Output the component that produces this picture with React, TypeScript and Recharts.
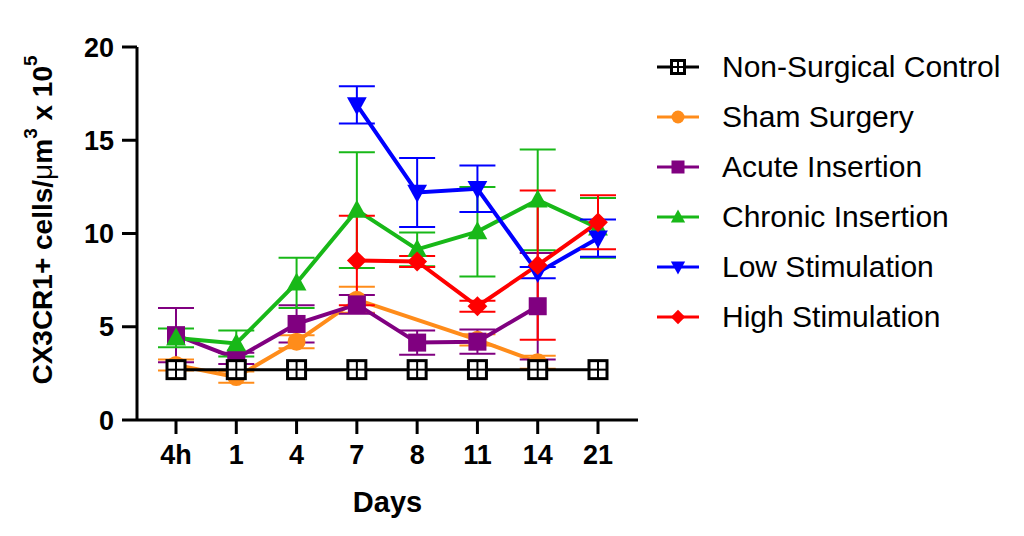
import React from "react";
import { LineChart, Line, XAxis, YAxis, ErrorBar, Label } from "recharts";

const days = ["4h", "1", "4", "7", "8", "11", "14", "21"];
const yTicks = [0, 5, 10, 15, 20];

const control = [2.7, 2.7, 2.7, 2.7, 2.7, 2.7, 2.7, 2.7];
const sham = [2.95, 2.3, 4.2, 6.45, null, 4.3, 3.1, null];
const shamErr = [0.3, 0.3, 0.35, 0.7, null, 0.3, 0.35, null];
const acute = [4.55, 3.3, 5.15, 6.2, 4.15, 4.2, 6.1, null];
const acuteErr = [1.45, 0.3, 1.0, 0.5, 0.65, 0.65, 2.85, null];
const chronic = [4.4, 4.1, 7.35, 11.25, 9.15, 10.1, 11.8, 10.3];
const chronicErr = [0.5, 0.7, 1.35, 3.1, 0.9, 2.4, 2.7, 1.6];
const low = [null, null, null, 16.9, 12.2, 12.4, 7.9, 9.75];
const lowErr = [null, null, null, 1.0, 1.85, 1.25, 0.3, 1.0];
const high = [null, null, null, 8.55, 8.5, 6.1, 8.3, 10.6];
const highErr = [null, null, null, 2.4, 0.3, 0.3, 4.0, 1.45];

const FONT = "'Liberation Sans', Arial, sans-serif";

type Shape = "openSquare" | "circle" | "square" | "up" | "down" | "diamond";

// one entry per series, drawn bottom to top
const series = [
  { key: "sham", err: "shamErr", name: "Sham Surgery", color: "#FF8C1A", shape: "circle" as Shape },
  { key: "acute", err: "acuteErr", name: "Acute Insertion", color: "#800080", shape: "square" as Shape },
  { key: "chronic", err: "chronicErr", name: "Chronic Insertion", color: "#18B818", shape: "up" as Shape },
  { key: "low", err: "lowErr", name: "Low Stimulation", color: "#0000FF", shape: "down" as Shape },
  { key: "high", err: "highErr", name: "High Stimulation", color: "#FF0000", shape: "diamond" as Shape },
];

const legendOrder = [
  { name: "Non-Surgical Control", color: "#000000", shape: "openSquare" as Shape },
  ...series,
];

const data = days.map((d, i) => ({
  day: d,
  control: control[i],
  sham: sham[i],
  shamErr: shamErr[i],
  acute: acute[i],
  acuteErr: acuteErr[i],
  chronic: chronic[i],
  chronicErr: chronicErr[i],
  low: low[i],
  lowErr: lowErr[i],
  high: high[i],
  highErr: highErr[i],
}));

function Marker({ shape, color, cx, cy, s }: { shape: Shape; color: string; cx: number; cy: number; s: number }) {
  switch (shape) {
    case "openSquare":
      return (
        <g>
          <rect x={cx - s} y={cy - s} width={2 * s} height={2 * s} fill="#fff" stroke="#000" strokeWidth={3} />
          <line x1={cx - s} x2={cx + s} y1={cy} y2={cy} stroke="#000" strokeWidth={2} />
          <line x1={cx} x2={cx} y1={cy - s} y2={cy + s} stroke="#000" strokeWidth={2} />
        </g>
      );
    case "circle":
      return <circle cx={cx} cy={cy} r={s} fill={color} />;
    case "square":
      return <rect x={cx - s} y={cy - s} width={2 * s} height={2 * s} fill={color} />;
    case "up":
      return <polygon points={`${cx},${cy - s * 1.15} ${cx - s * 1.1},${cy + s * 0.85} ${cx + s * 1.1},${cy + s * 0.85}`} fill={color} />;
    case "down":
      return <polygon points={`${cx},${cy + s * 1.15} ${cx - s * 1.1},${cy - s * 0.85} ${cx + s * 1.1},${cy - s * 0.85}`} fill={color} />;
    default:
      return <polygon points={`${cx},${cy - s * 1.1} ${cx + s * 1.1},${cy} ${cx},${cy + s * 1.1} ${cx - s * 1.1},${cy}`} fill={color} />;
  }
}

const dotFor = (shape: Shape, color: string) => (props: any) => {
  const { cx, cy, index, value } = props;
  if (cx == null || cy == null || value == null) return <g key={index} />;
  return (
    <g key={index}>
      <Marker shape={shape} color={color} cx={cx} cy={cy} s={9} />
    </g>
  );
};

function YTitle() {
  const x = 42;
  const y = 220;
  return (
    <text
      x={x}
      y={y}
      transform={`rotate(-90, ${x}, ${y})`}
      textAnchor="middle"
      dominantBaseline="central"
      fontFamily={FONT}
      fontWeight="bold"
      fontSize={28}
      fill="#000"
    >
      CX3CR1+ cells/<tspan fontWeight="normal">μ</tspan>m
      <tspan dy={-12} fontSize={19}>3</tspan>
      <tspan dy={12}> x 10</tspan>
      <tspan dy={-12} fontSize={19}>5</tspan>
    </text>
  );
}

function DaysTitle(props: any) {
  const vb = props.viewBox || { x: 137, y: 420, width: 501 };
  return (
    <text
      x={vb.x + vb.width / 2}
      y={vb.y + 82}
      textAnchor="middle"
      dominantBaseline="central"
      fontFamily={FONT}
      fontWeight="bold"
      fontSize={29}
      fill="#000"
    >
      Days
    </text>
  );
}

function LegendBox() {
  return (
    <div style={{ position: "absolute", left: 655, top: 42, fontFamily: FONT, fontSize: 30, color: "#000" }}>
      {legendOrder.map((s) => (
        <div key={s.name} style={{ display: "flex", alignItems: "center", height: 50 }}>
          <svg width={46} height={30} style={{ marginRight: 21 }}>
            <line x1={2} x2={44} y1={15} y2={15} stroke={s.color} strokeWidth={3} />
            <Marker shape={s.shape} color={s.color} cx={23} cy={15} s={6.5} />
          </svg>
          <span>{s.name}</span>
        </div>
      ))}
    </div>
  );
}

export default function App() {
  return (
    <div style={{ position: "absolute", left: 0, top: 0, width: 1024, height: 536, background: "#fff" }}>
      <LineChart width={1024} height={536} data={data} margin={{ top: 47, right: 386, bottom: 0, left: 0 }}>
        <XAxis
          dataKey="day"
          height={116}
          padding={{ left: 39, right: 40 }}
          tickSize={14}
          tickMargin={11}
          axisLine={{ stroke: "#000", strokeWidth: 3 }}
          tickLine={{ stroke: "#000", strokeWidth: 3 }}
          tick={{ fill: "#000", fontFamily: FONT, fontWeight: "bold", fontSize: 27 }}
          interval={0}
        >
          <Label content={<DaysTitle />} />
        </XAxis>
        <YAxis
          width={137}
          domain={[0, 20]}
          ticks={yTicks}
          tickSize={15}
          tickMargin={8}
          axisLine={{ stroke: "#000", strokeWidth: 3 }}
          tickLine={{ stroke: "#000", strokeWidth: 3 }}
          tick={{ fill: "#000", fontFamily: FONT, fontWeight: "bold", fontSize: 27 }}
        >
          <Label content={<YTitle />} />
        </YAxis>
        {series.map((s) => (
          <Line
            key={s.key}
            dataKey={s.key}
            stroke={s.color}
            strokeWidth={4}
            connectNulls
            isAnimationActive={false}
            dot={dotFor(s.shape, s.color)}
            activeDot={false}
          >
            <ErrorBar dataKey={s.err} width={18} strokeWidth={2} stroke={s.color} direction="y" isAnimationActive={false} />
          </Line>
        ))}
        <Line
          dataKey="control"
          stroke="#000"
          strokeWidth={3}
          isAnimationActive={false}
          dot={dotFor("openSquare", "#000")}
          activeDot={false}
        />
      </LineChart>
      <LegendBox />
    </div>
  );
}
